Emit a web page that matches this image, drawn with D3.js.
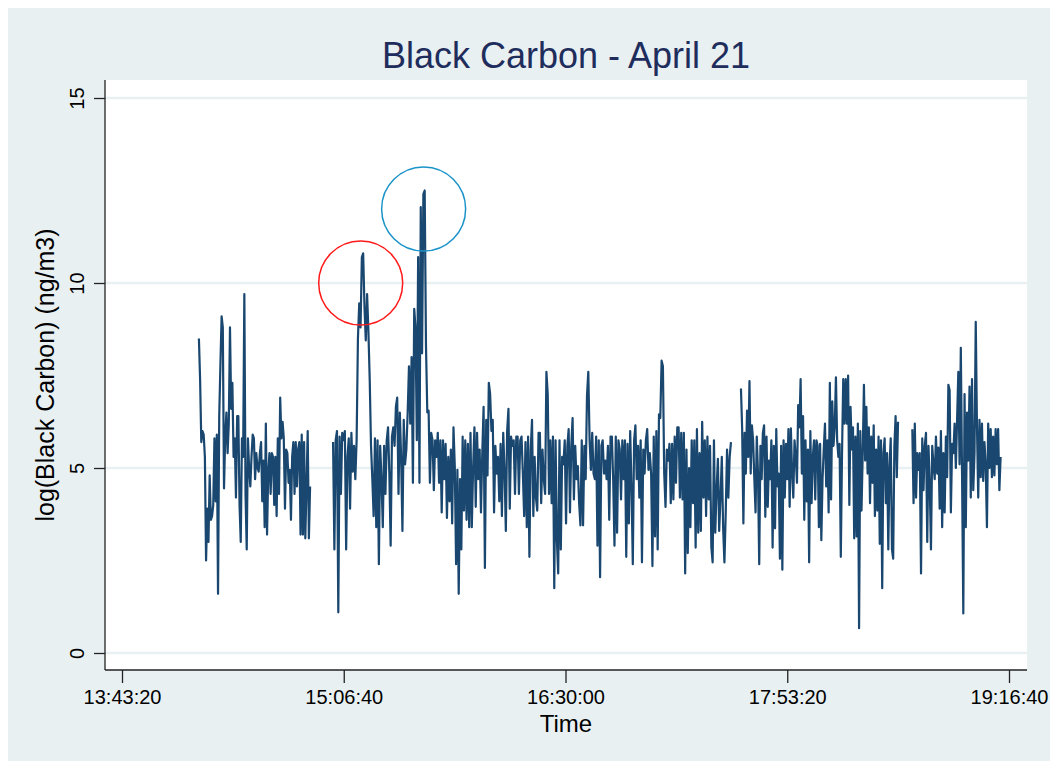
<!DOCTYPE html>
<html>
<head>
<meta charset="utf-8">
<script src="https://cdn.jsdelivr.net/npm/d3@7"></script>
<style>
  body { margin: 0; background: #ffffff; }
  text { font-family: "Liberation Sans", Arial, sans-serif; }
</style>
</head>
<body>
<div id="chart"></div>
<script>
const WIDTH = 1057;
const HEIGHT = 761;

const TITLE = "Black Carbon - April 21";
const X_LABEL = "Time";
const Y_LABEL = "log(Black Carbon) (ng/m3)";

const X_TICKS = ["13:43:20", "15:06:40", "16:30:00", "17:53:20", "19:16:40"];
const Y_TICKS = [0, 5, 10, 15];

// each run of readings: first and last time stamp, readings logged at a fixed rate in between
const segStarts = ["14:12:14", "15:02:39", "17:35:56", "18:40:20"];
const segEnds = ["14:54:01", "17:32:11", "18:34:58", "19:13:31"];

const seg1 = [8.5, 7.4, 5.7, 6.0, 5.9, 5.3, 2.5, 3.9, 3.0, 4.8, 3.6, 3.7, 4.0, 5.8, 4.1, 5.9, 1.6, 6.4, 7.8, 9.1,
    8.8, 4.45, 5.85, 6.5, 5.4, 6.2, 8.8, 6.6, 7.3, 5.3, 5.8, 4.2, 6.4, 6.4, 4.0, 3.0, 5.8, 5.3, 9.7, 4.3,
    2.8, 5.8, 5.0, 4.5, 5.3, 5.9, 5.8, 4.7, 5.4, 5.0, 4.9, 5.4, 5.7, 4.1, 5.2, 3.4, 6.2, 3.2, 4.9, 5.4,
    4.3, 5.4, 5.3, 4.0, 5.3, 3.7, 5.8, 4.3, 6.9, 5.8, 6.25, 5.8, 3.9, 5.5, 5.4, 4.6, 4.95, 3.6, 5.3, 5.7,
    4.3, 5.7, 4.5, 5.5, 5.7, 3.2, 5.9, 3.2, 5.7, 3.1, 4.5, 6.0, 3.1, 4.5];

const seg2 = [5.7, 2.8, 5.75, 6.0, 1.1, 5.85, 4.3, 5.95, 5.75, 6.0, 2.8, 5.3, 5.8, 3.9, 5.95, 4.9, 5.6, 4.7, 5.75, 8.5, 9.45,
    8.8, 10.7, 10.8, 9.35, 8.45, 9.7, 8.7, 7.4, 5.6, 4.7, 3.7, 5.8, 3.4, 5.75, 2.4, 5.6, 4.7, 3.4, 5.6, 4.3,
    5.75, 6.1, 4.85, 2.9, 5.85, 6.1, 5.6, 6.65, 6.9, 4.3, 6.5, 5.3, 3.3, 6.3, 5.1, 5.5, 6.5, 7.75, 6.2, 8.0,
    4.6, 9.3, 8.8, 5.75, 10.7, 4.6, 12.05, 8.1, 12.4, 12.5, 8.3, 6.5, 6.55, 4.6, 5.95, 5.75, 4.4, 5.75, 5.3, 5.95,
    4.6, 5.75, 3.8, 5.75, 4.7, 5.65, 3.65, 5.3, 4.1, 5.5, 3.5, 6.1, 5.05, 2.4, 4.95, 1.6, 4.7, 2.8, 5.85, 3.85,
    5.75, 3.6, 5.65, 3.4, 5.95, 3.4, 5.0, 6.1, 3.95, 5.95, 4.7, 5.5, 3.8, 5.4, 6.65, 2.3, 6.3, 4.8, 7.3, 7.0,
    6.0, 6.3, 3.8, 5.6, 4.85, 5.3, 4.1, 5.65, 3.7, 5.95, 4.95, 3.3, 6.0, 6.6, 3.9, 5.85, 5.6, 5.75, 4.3, 5.85,
    5.85, 4.3, 5.75,
    5.85, 4.85, 3.7, 5.7, 3.4, 5.85, 2.6, 5.5, 6.3, 3.7, 5.3, 4.2, 3.85, 5.95, 5.95, 4.05, 5.5, 4.7, 4.3, 7.6,
    7.0, 4.3, 5.75, 4.05, 5.85, 1.75, 5.75, 3.05, 2.15, 5.75, 2.8, 5.3, 5.1, 5.75, 3.5, 5.6, 6.05, 3.8, 5.6, 6.35,
    4.15, 5.6, 4.7, 5.05, 4.05, 3.45, 5.75, 3.45, 5.6, 4.7, 6.95, 7.6, 5.75, 4.95, 5.95, 4.85, 4.7, 5.85, 2.9, 5.75,
    2.05, 5.6, 5.75, 4.85, 5.2, 4.7, 5.6, 3.6, 5.85, 5.85, 4.7, 2.9, 5.85, 3.25, 5.75, 5.5, 4.15, 5.75, 4.7, 5.75,
    2.6, 5.65, 3.5, 6.0, 4.5, 2.4, 5.75, 6.15, 4.7, 5.6, 4.2, 5.75, 2.45, 5.5, 4.85, 5.75, 6.05, 4.95, 5.4, 4.85,
    2.35, 5.85, 3.15, 6.0, 2.8, 6.45, 6.35, 7.9, 7.75, 4.85, 3.95, 5.5, 5.2, 5.65, 4.05, 5.65, 4.15, 5.85, 4.6, 6.1,
    6.1, 4.2, 5.95, 4.15, 5.95, 2.15, 5.5, 2.7, 5.0, 3.4, 5.75, 4.05, 5.75, 2.85, 6.05, 3.25, 5.4, 3.3, 6.25, 4.2,
    5.75, 3.7, 5.85, 4.15, 5.6, 2.87, 2.45, 5.75, 3.25, 4.4, 5.25, 3.3, 4.2, 5.3, 3.4, 2.45, 3.8, 5.5, 4.2, 5.3, 5.7];

const seg3 = [7.15, 6.05, 3.5, 5.95, 4.85, 6.55, 5.3, 7.35, 4.85, 6.15, 5.75, 4.7, 3.8, 5.85, 4.85, 2.4, 5.6, 4.7, 5.95, 6.15,
    3.68, 5.85, 3.95, 5.2, 4.7, 5.75, 2.85, 5.6, 3.37, 6.05, 4.5, 4.85, 2.55, 5.6, 2.25, 5.75, 4.2, 5.65, 4.7, 6.05,
    3.95, 6.07, 4.85, 4.2, 5.75, 5.3, 4.6, 6.7, 6.1, 7.4, 4.85, 6.4, 3.6, 5.75, 4.1, 5.5, 2.45, 6.0, 4.05, 5.3,
    5.75, 4.15, 5.75, 5.6, 3.4, 5.65, 3.05, 4.7, 5.5, 6.2, 4.5, 5.75, 3.8, 7.3, 4.15, 6.8, 5.6, 6.1, 7.45, 5.75,
    5.3, 5.65, 2.6,
    5.4, 7.4, 6.2, 7.4, 6.2, 7.5, 4.0, 6.65, 5.5, 6.1, 3.1, 5.85, 3.15, 6.2, 0.67, 6.0, 3.85, 5.4, 7.25, 5.2,
    6.65, 4.85, 6.1, 4.05, 5.85, 4.6, 6.15, 3.7, 5.5, 3.85, 5.85, 2.95, 5.75, 1.75, 5.4, 5.8, 4.05, 5.4, 2.8, 5.05,
    5.8, 2.8, 2.55, 5.6, 6.4, 4.75, 6.25];

const seg4 = [6.05, 4.05, 6.2, 4.2, 5.4, 4.95, 5.4, 2.15, 5.8, 4.4, 5.6, 5.95, 3.0, 5.6, 4.6, 2.8, 5.6, 5.1, 4.7, 5.85,
    4.85, 5.55, 3.9, 6.0, 3.4, 5.4, 3.8, 5.85, 4.75, 7.25, 7.1, 3.8, 5.65, 5.4, 6.2, 5.0, 6.3, 7.6, 5.1, 8.25,
    4.8, 1.07, 7.0, 3.4, 6.5, 5.2, 7.2, 4.2, 7.4, 4.4, 5.4, 8.95, 6.1, 4.2, 6.3, 4.75, 6.2, 4.65, 5.7, 5.1,
    3.4, 6.2, 5.0, 6.05, 4.75, 5.85, 4.8, 6.05, 5.1, 6.05, 4.4, 5.3];

// circled peaks
const markTimes = ["15:13:02", "15:36:41"];
const markValues = [10, 12];
const markColors = ["#ff1a1a", "#1a93c9"];
const MARK_RADIUS = 42;

const LINE_COLOR = "#1a476f";
const BG_COLOR = "#e9f0f2";
const GRID_COLOR = "#e9f0f2";
const TITLE_COLOR = "#1f2d5c";

const plotLeft = 105, plotRight = 1027, plotTop = 80, plotBottom = 670;

var parseTime = d3.timeParse("%H:%M:%S");
var formatTime = d3.timeFormat("%H:%M:%S");

var svg = d3.select('#chart')
    .append('svg')
    .attr('width', WIDTH)
    .attr('height', HEIGHT);

// graph region and plot region
svg.append('rect')
    .attr('x', 8).attr('y', 8)
    .attr('width', 1042).attr('height', 753)
    .attr('fill', BG_COLOR);

svg.append('rect')
    .attr('x', plotLeft).attr('y', plotTop)
    .attr('width', plotRight - plotLeft).attr('height', plotBottom - plotTop)
    .attr('fill', '#ffffff');

var x = d3.scaleTime()
    .domain([parseTime(X_TICKS[0]), parseTime(X_TICKS[X_TICKS.length - 1])])
    .range([122, 1009]);

var y = d3.scaleLinear()
    .domain([0, 15])
    .range([653, 98]);

// grid lines
svg.append('g')
    .selectAll('line')
    .data(Y_TICKS)
    .enter()
    .append('line')
    .attr('x1', plotLeft)
    .attr('x2', plotRight)
    .attr('y1', d => y(d))
    .attr('y2', d => y(d))
    .attr('stroke', GRID_COLOR)
    .attr('stroke-width', 2.5);

// y axis
var yAxis = svg.append('g')
    .attr('transform', `translate(${plotLeft},0)`)
    .call(d3.axisLeft(y).tickValues(Y_TICKS).tickSize(11).tickFormat(d3.format('d')));
yAxis.select('.domain').attr('d', `M0,${plotTop}V${plotBottom}`).attr('stroke', '#222').attr('stroke-width', 1.3);
yAxis.selectAll('.tick line').attr('stroke', '#222').attr('stroke-width', 1.3);
yAxis.selectAll('.tick text')
    .attr('x', null).attr('dy', null)
    .attr('transform', 'translate(-21,0) rotate(-90)')
    .attr('text-anchor', 'middle')
    .attr('font-size', 20)
    .attr('fill', '#000');

// x axis
var xAxis = svg.append('g')
    .attr('transform', `translate(0,${plotBottom})`)
    .call(d3.axisBottom(x).tickValues(X_TICKS.map(parseTime)).tickSize(13).tickFormat(formatTime));
xAxis.select('.domain').attr('d', `M${plotLeft},0H${plotRight}`).attr('stroke', '#222').attr('stroke-width', 1.3);
xAxis.selectAll('.tick line').attr('stroke', '#222').attr('stroke-width', 1.3);
xAxis.selectAll('.tick text')
    .attr('y', 34).attr('dy', null)
    .attr('font-size', 20)
    .attr('fill', '#000');

// series
var line = d3.line()
    .x(d => x(d.time))
    .y(d => y(d.value));

var segValues = [seg1, seg2, seg3, seg4];
var segments = segValues.map(function(vals, k) {
    let t0 = parseTime(segStarts[k]).getTime();
    let t1 = parseTime(segEnds[k]).getTime();
    let step = (t1 - t0) / (vals.length - 1);
    return vals.map((v, i) => ({ time: new Date(t0 + i * step), value: v }));
});

svg.append('g')
    .selectAll('path')
    .data(segments)
    .enter()
    .append('path')
    .attr('d', line)
    .attr('fill', 'none')
    .attr('stroke', LINE_COLOR)
    .attr('stroke-width', 2.2)
    .attr('stroke-linejoin', 'round');

// circles around the two peaks
svg.append('g')
    .selectAll('circle')
    .data(markTimes)
    .enter()
    .append('circle')
    .attr('cx', d => x(parseTime(d)))
    .attr('cy', (d, i) => y(markValues[i]))
    .attr('r', MARK_RADIUS)
    .attr('fill', 'none')
    .attr('stroke', (d, i) => markColors[i])
    .attr('stroke-width', 1.5);

// titles
svg.append('text')
    .attr('x', (plotLeft + plotRight) / 2)
    .attr('y', 68)
    .attr('text-anchor', 'middle')
    .attr('font-size', 36)
    .attr('fill', TITLE_COLOR)
    .text(TITLE);

svg.append('text')
    .attr('x', (plotLeft + plotRight) / 2)
    .attr('y', 732)
    .attr('text-anchor', 'middle')
    .attr('font-size', 24)
    .attr('fill', '#000')
    .text(X_LABEL);

svg.append('text')
    .attr('transform', `translate(54,${(plotTop + plotBottom) / 2}) rotate(-90)`)
    .attr('text-anchor', 'middle')
    .attr('font-size', 25)
    .attr('fill', '#000')
    .text(Y_LABEL);
</script>
</body>
</html>
